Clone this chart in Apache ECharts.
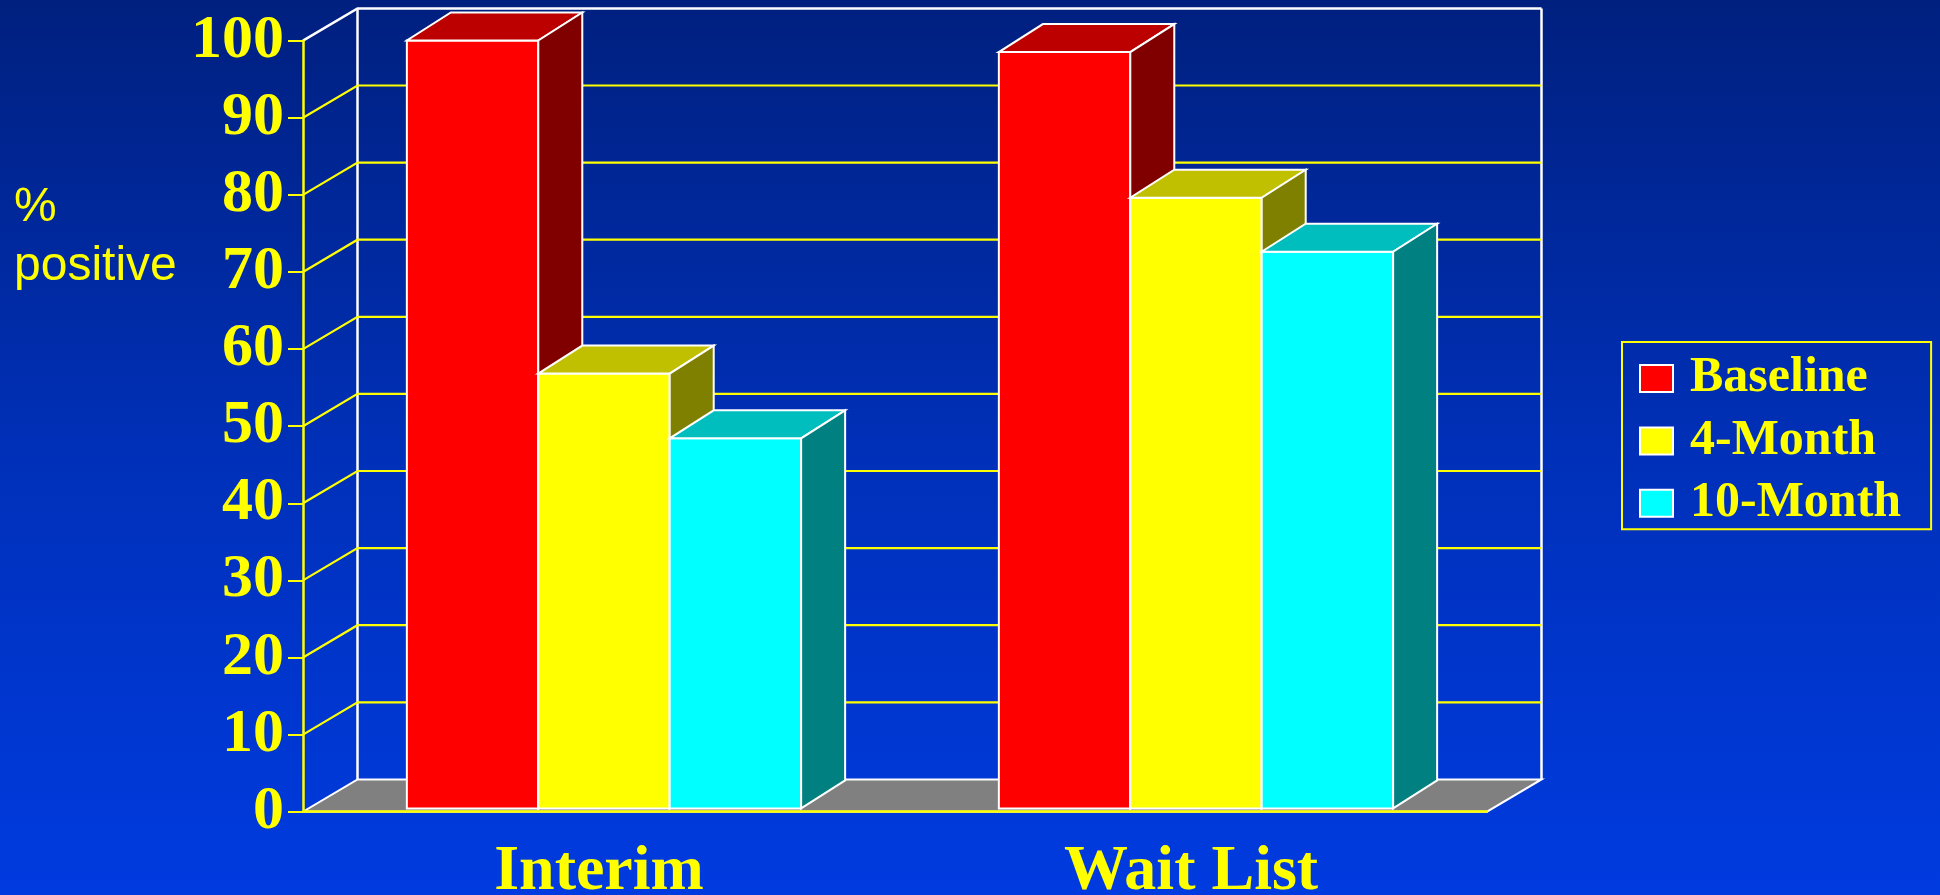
<!DOCTYPE html>
<html>
<head>
<meta charset="utf-8">
<title>% positive by group</title>
<script src="https://cdn.jsdelivr.net/npm/echarts@6/dist/echarts.min.js"></script>
<style>
  html, body { margin: 0; padding: 0; overflow: hidden; background: #0030b0; }
  #chart { width: 1940px; height: 895px; }
</style>
</head>
<body>
<div id="chart"></div>
<script>
// ---- data ----
const groups = ['Interim', 'Wait List'];
const seriesNames = ['Baseline', '4-Month', '10-Month'];
const baseline = [99.6, 98.1];
const month4 = [56.4, 79.2];
const month10 = [48.0, 72.2];
const yTicks = [0, 10, 20, 30, 40, 50, 60, 70, 80, 90, 100];

// ---- pseudo-3D geometry (pixels) ----
const WALL_DX = 54.5, WALL_DY = -32.3;      // depth of back wall / floor
const BAR_INSET_X = 5, BAR_INSET_Y = -3.3;  // bars sit slightly behind the front edge
const BAR_DX = 44, BAR_DY = -28;            // depth of each column
const BAR_FRACTION = 0.222;                 // column width as share of category band

const faceColors = [
  { front: '#FF0000', top: '#BC0000', side: '#800000' },
  { front: '#FFFF00', top: '#C0C000', side: '#808000' },
  { front: '#00FFFF', top: '#00BEBE', side: '#008080' }
];

const edge = { stroke: '#FFFFFF', lineWidth: 2, lineJoin: 'miter' };

function columnRenderer(slot, colors) {
  return function (params, api) {
    const cat = api.value(0);
    const val = api.value(1);
    const base = api.coord([cat, 0]);
    const top = api.coord([cat, val]);
    const band = api.size([1, 0])[0];
    const w = band * BAR_FRACTION;
    const x0 = base[0] - 1.5 * w + slot * w + BAR_INSET_X;
    const x1 = x0 + w;
    const yb = base[1] + BAR_INSET_Y;
    const yt = top[1] + BAR_INSET_Y;
    return {
      type: 'group',
      children: [
        { type: 'polygon',
          shape: { points: [[x0, yb], [x1, yb], [x1, yt], [x0, yt]] },
          style: Object.assign({ fill: colors.front }, edge) },
        { type: 'polygon',
          shape: { points: [[x0, yt], [x1, yt], [x1 + BAR_DX, yt + BAR_DY], [x0 + BAR_DX, yt + BAR_DY]] },
          style: Object.assign({ fill: colors.top }, edge) },
        { type: 'polygon',
          shape: { points: [[x1, yb], [x1 + BAR_DX, yb + BAR_DY], [x1 + BAR_DX, yt + BAR_DY], [x1, yt]] },
          style: Object.assign({ fill: colors.side }, edge) }
      ]
    };
  };
}

// back wall, its gridlines and the floor
function wallRenderer(params, api) {
  const cs = params.coordSys;
  const v = api.value(1);
  const y = api.coord([0, v])[1];
  const xl = cs.x, xr = cs.x + cs.width;
  const maxV = yTicks[yTicks.length - 1];
  const children = [];
  if (v === 0) {
    const yTop = api.coord([0, maxV])[1];
    children.push({
      type: 'polygon',
      shape: { points: [[xl, y], [xr, y], [xr + WALL_DX, y + WALL_DY], [xl + WALL_DX, y + WALL_DY]] },
      style: { fill: '#808080', stroke: '#FFFFFF', lineWidth: 2 }
    });
    children.push({
      type: 'polyline',
      shape: { points: [[xl + WALL_DX, y + WALL_DY], [xl + WALL_DX, yTop + WALL_DY]] },
      style: { stroke: '#FFFFFF', lineWidth: 2.5, fill: null }
    });
    children.push({
      type: 'polyline',
      shape: { points: [[xr + WALL_DX, y + WALL_DY], [xr + WALL_DX, yTop + WALL_DY]] },
      style: { stroke: '#FFFFFF', lineWidth: 2.5, fill: null }
    });
  } else {
    children.push({
      type: 'polyline',
      shape: { points: [[xl, y], [xl + WALL_DX, y + WALL_DY], [xr + WALL_DX, y + WALL_DY]] },
      style: { stroke: v === maxV ? '#FFFFFF' : '#FFFF00', lineWidth: v === maxV ? 2.5 : 2.2, fill: null }
    });
  }
  return { type: 'group', children: children };
}

const seriesValues = [baseline, month4, month10];

const chart = echarts.init(document.getElementById('chart'), null, { renderer: 'canvas' });

const option = {
  animation: false,
  backgroundColor: {
    type: 'linear', x: 0, y: 0, x2: 0, y2: 1,
    colorStops: [
      { offset: 0, color: '#00207F' },
      { offset: 0.5, color: '#0030B8' },
      { offset: 1, color: '#003BE0' }
    ]
  },
  title: {
    text: '%\npositive',
    left: 14,
    top: 178,
    padding: 0,
    textStyle: {
      fontFamily: 'Liberation Sans',
      fontWeight: 'normal',
      fontSize: 48,
      lineHeight: 59,
      color: '#FFFF00'
    }
  },
  legend: {
    data: seriesNames,
    orient: 'vertical',
    left: 1622,
    top: 342,
    icon: 'rect',
    itemWidth: 33,
    itemHeight: 27,
    itemGap: 12.4,
    padding: [11.5, 30, 1, 17],
    borderColor: '#FFFF00',
    borderWidth: 2,
    itemStyle: { borderColor: '#FFFFFF', borderWidth: 2 },
    textStyle: {
      fontFamily: 'Liberation Serif',
      fontWeight: 'bold',
      fontSize: 50,
      lineHeight: 27,
      color: '#FFFF00',
      padding: [0, 0, 0, 12]
    }
  },
  grid: {
    left: 303,
    top: 40.7,
    width: 1184,
    height: 771,
    containLabel: false,
    outerBoundsMode: 'none'
  },
  xAxis: {
    type: 'category',
    data: groups,
    z: 5,
    axisLine: { lineStyle: { color: '#FFFF00', width: 2.5 } },
    axisTick: { length: 12, lineStyle: { color: '#FFFF00', width: 2 } },
    axisLabel: {
      margin: 29,
      fontFamily: 'Liberation Serif',
      fontWeight: 'bold',
      fontSize: 64,
      lineHeight: 64,
      color: '#FFFF00'
    },
    splitLine: { show: false }
  },
  yAxis: {
    type: 'value',
    min: 0,
    max: 100,
    interval: 10,
    z: 5,
    axisLine: { show: true, lineStyle: { color: '#FFFF00', width: 2.5 } },
    axisTick: { show: true, length: 15, lineStyle: { color: '#FFFF00', width: 2 } },
    axisLabel: {
      margin: 19,
      fontFamily: 'Liberation Serif',
      fontWeight: 'bold',
      fontSize: 62,
      color: '#FFFF00'
    },
    splitLine: { show: false }
  },
  series: [
    {
      type: 'custom',
      name: 'wall',
      clip: false,
      silent: true,
      z: 1,
      renderItem: wallRenderer,
      data: yTicks.map(function (v) { return [0, v]; }),
      encode: { x: 0, y: 1 }
    }
  ].concat(seriesNames.map(function (name, i) {
    return {
      type: 'custom',
      name: name,
      clip: false,
      z: 2,
      itemStyle: { color: faceColors[i].front },
      renderItem: columnRenderer(i, faceColors[i]),
      data: seriesValues[i].map(function (v, c) { return [c, v]; }),
      encode: { x: 0, y: 1 }
    };
  }))
};

chart.setOption(option);
</script>
</body>
</html>
